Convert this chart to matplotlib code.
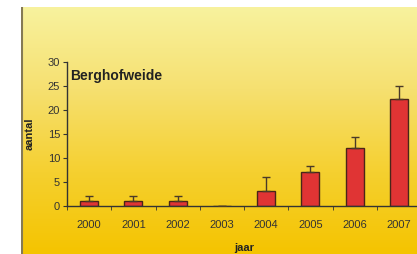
import numpy as np
import matplotlib
matplotlib.use("Agg")
import matplotlib.pyplot as plt
from matplotlib.colors import LinearSegmentedColormap

plt.rcParams['font.family'] = ['Liberation Sans', 'DejaVu Sans']

years = ["2000", "2001", "2002", "2003", "2004", "2005", "2006", "2007"]
values = [1, 1, 1, 0, 3, 7.1, 12, 22.2]
errors = [1, 1, 1, 0, 3, 1.1, 2.3, 2.8]
title = "Berghofweide"

W, H = 417, 254
fig = plt.figure(figsize=(W / 100, H / 100), dpi=100)
fig.patch.set_facecolor("white")

# gradient background panel
bg = fig.add_axes([21 / W, 0, 1 - 21 / W, 247 / H], zorder=0)
cmap = LinearSegmentedColormap.from_list("yl", ["#f8f29e", "#f6e070", "#f5d030", "#f4c400"])
grad = np.linspace(0, 1, 256).reshape(-1, 1)
bg.imshow(grad, aspect="auto", cmap=cmap, extent=[0, 1, 0, 1], origin="upper")
bg.set_xlim(0, 1); bg.set_ylim(0, 1)
bg.axis("off")
bg.axvline(0.002, color="#857a55", lw=1.5)

ax = fig.add_axes([67 / W, 1 - 205.5 / H, (421 - 67) / W, (205.5 - 62) / H], zorder=1)
ax.patch.set_alpha(0)
x = np.arange(len(years))
ax.bar(x, values, width=0.41, color="#e03434", edgecolor="#4a2518", linewidth=1.0, zorder=2)
ax.errorbar(x, values, yerr=[np.zeros(len(errors)), errors], fmt="none",
            ecolor="#4a3a28", elinewidth=1.0, capsize=3, capthick=1.0, zorder=3)

ax.set_xlim(-0.5, len(years) - 0.5)
ax.set_ylim(0, 30)
ax.set_yticks([0, 5, 10, 15, 20, 25, 30])
ax.set_xticks(x)
ax.set_xticklabels(years)
ax.set_xticks(np.arange(len(years) + 1) - 0.5, minor=True)
ax.tick_params(axis="x", which="major", length=0, pad=10.5, labelsize=8, labelcolor="#333333")
ax.tick_params(axis="x", which="minor", length=3, direction="out", color="#333333")
ax.tick_params(axis="y", length=3, direction="out", color="#333333", labelsize=8, labelcolor="#333333", pad=2)

for s in ["top", "right"]:
    ax.spines[s].set_visible(False)
for s in ["left", "bottom"]:
    ax.spines[s].set_color("#333333")
    ax.spines[s].set_linewidth(1.0)

ax.set_ylabel("aantal", fontsize=8, fontweight="bold", labelpad=9.5, color="#222222")
ax.set_xlabel("jaar", fontsize=8, fontweight="bold", labelpad=9, color="#222222")
ax.text(0.008, 0.90, title, transform=ax.transAxes, fontsize=10, fontweight="bold",
        color="#222222", va="center", ha="left")

fig.savefig("out.png", dpi=100)
